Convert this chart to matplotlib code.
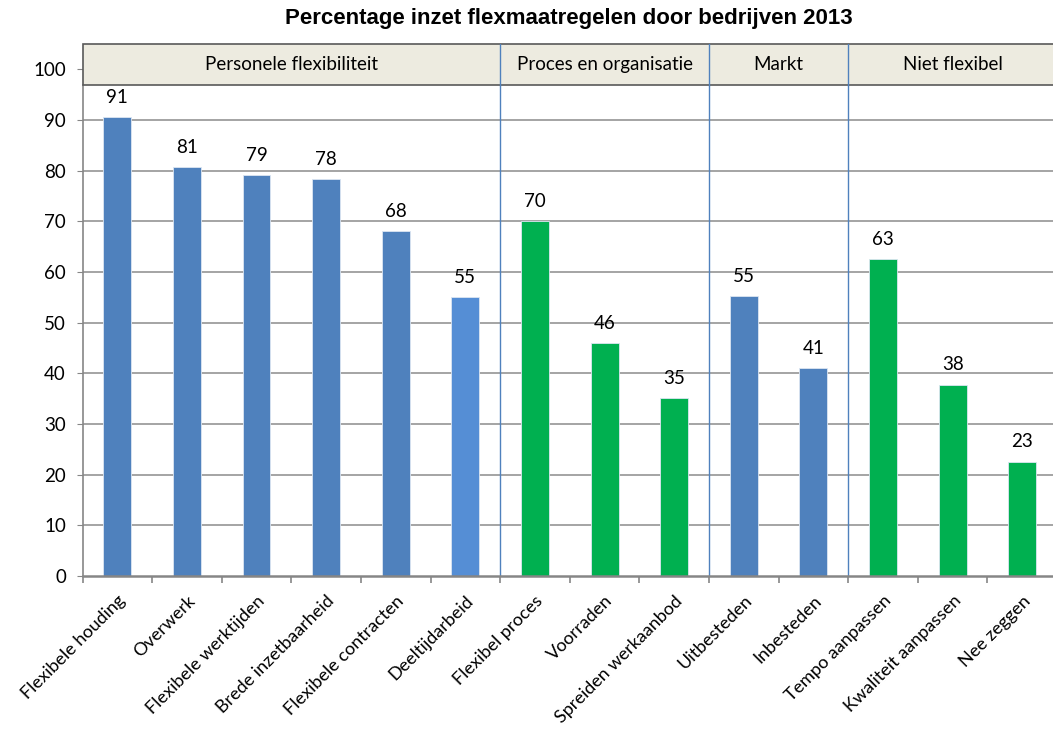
# Percentage inzet flexmaatregelen door bedrijven 2013

import matplotlib.pyplot as plt
from matplotlib.patches import Rectangle
from matplotlib.ticker import FixedLocator

categories = ['Flexibele houding', 'Overwerk', 'Flexibele werktijden', 'Brede inzetbaarheid',
              'Flexibele contracten', 'Deeltijdarbeid', 'Flexibel proces', 'Voorraden',
              'Spreiden werkaanbod', 'Uitbesteden', 'Inbesteden', 'Tempo aanpassen',
              'Kwaliteit aanpassen', 'Nee zeggen']
values = [90.6, 80.8, 79.1, 78.4, 68.1, 55.0, 70.1, 46.0, 35.1, 55.3, 41.0, 62.6, 37.8, 22.6]
labels = ['91', '81', '79', '78', '68', '55', '70', '46', '35', '55', '41', '63', '38', '23']
groups = ['Personele flexibiliteit', 'Proces en organisatie', 'Markt', 'Niet flexibel']
group_sizes = [6, 3, 2, 3]

BLUE = '#4F81BD'
LIGHTBLUE = '#558ED5'
GREEN = '#00B050'
colors = [BLUE] * 5 + [LIGHTBLUE] + [GREEN] * 3 + [BLUE] * 2 + [GREEN] * 3

plt.rcParams['font.family'] = ['Lato', 'DejaVu Sans']
FS = 13.5

fig = plt.figure(figsize=(10.53, 7.31), dpi=100)
ax = fig.add_axes([0.0784, 0.2120, 0.9254, 0.7278])

x = list(range(len(categories)))
ax.bar(x, values, width=0.4, color=colors, edgecolor='#dce6f2', linewidth=0.6, zorder=2)
for xi, v, lab in zip(x, values, labels):
    ax.annotate(lab, (xi, v), xytext=(0, 8), textcoords='offset points',
                ha='center', va='bottom', fontsize=FS)

ax.set_xlim(-0.5, len(categories) - 0.5)
ax.set_ylim(0, 105)
ax.set_yticks(range(0, 101, 10))
ax.tick_params(axis='y', labelsize=FS, length=4, color='#868686', pad=8)
for yv in range(10, 100, 10):
    ax.axhline(yv, color='#8c8c8c', lw=1.1, zorder=1)

ax.set_xticks(x)
ax.set_xticklabels(categories, rotation=45, ha='right', rotation_mode='anchor', fontsize=13)
ax.tick_params(axis='x', which='major', length=0, pad=12)
ax.xaxis.set_minor_locator(FixedLocator([i - 0.5 for i in range(len(categories) + 1)]))
ax.tick_params(axis='x', which='minor', length=5, color='#868686', width=1.2)

for s in ['top', 'right']:
    ax.spines[s].set_visible(False)
ax.spines['left'].set_bounds(0, 97)
ax.spines['left'].set_color('#868686')
ax.spines['left'].set_linewidth(1.2)
ax.spines['bottom'].set_color('#868686')
ax.spines['bottom'].set_linewidth(1.8)

# header band with group names
ax.add_patch(Rectangle((-0.5, 97), len(categories), 8, facecolor='#EDEBE0',
                       edgecolor='#595959', lw=1.2, zorder=3, clip_on=False))
start = 0
for name, n in zip(groups, group_sizes):
    ax.text(start - 0.5 + n / 2, 101, name, ha='center', va='center', fontsize=FS, zorder=5)
    if start > 0:
        ax.plot([start - 0.5, start - 0.5], [0, 97], color='#4F81BD', lw=1, zorder=2)
        ax.plot([start - 0.5, start - 0.5], [97, 105], color='#4F81BD', lw=1, zorder=4)
    start += n

fig.text(0.54, 0.975, 'Percentage inzet flexmaatregelen door bedrijven 2013',
         ha='center', va='center', fontsize=16, fontweight='bold', family='Liberation Sans')

fig.savefig('out.png', dpi=100)
